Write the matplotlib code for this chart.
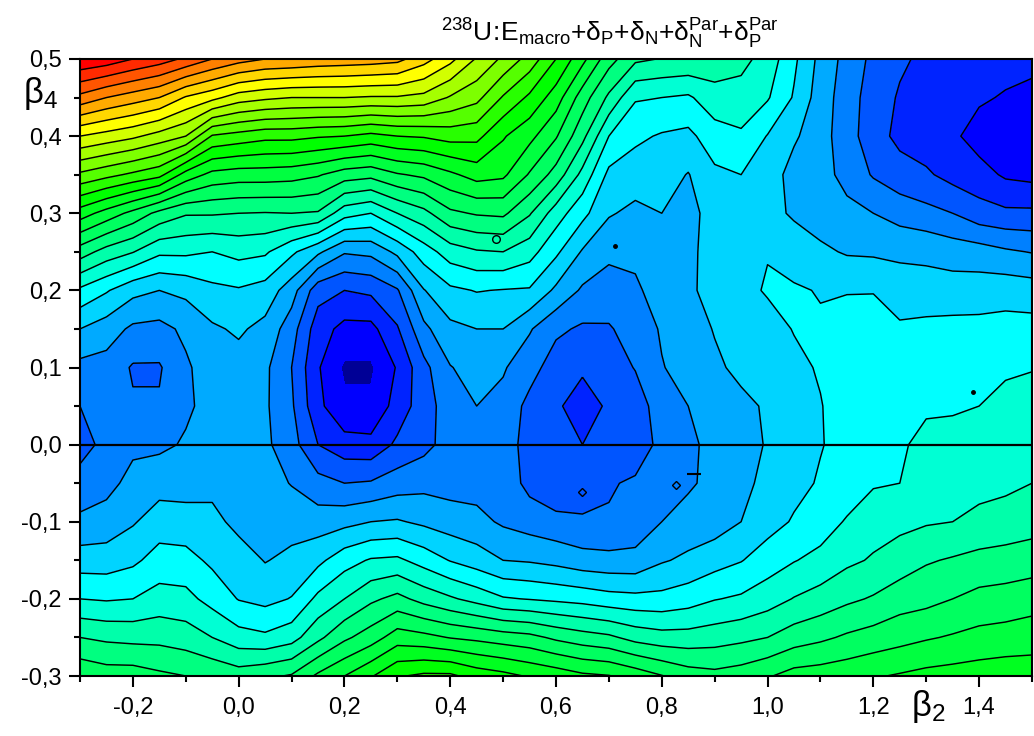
import matplotlib
matplotlib.use('Agg')
import matplotlib.pyplot as plt
import numpy as np

plt.rcParams['font.family'] = ['Liberation Sans', 'DejaVu Sans']
plt.rcParams['mathtext.fontset'] = 'custom'
plt.rcParams['mathtext.rm'] = 'Liberation Sans'
plt.rcParams['mathtext.it'] = 'Liberation Sans:italic'
plt.rcParams['mathtext.bf'] = 'Liberation Sans:bold'

beta2 = [-0.30, -0.25, -0.20, -0.15, -0.10, -0.05, 0.00, 0.05, 0.10, 0.15, 0.20, 0.25, 0.30,
         0.35, 0.40, 0.45, 0.50, 0.55, 0.60, 0.65, 0.70, 0.75, 0.80, 0.85, 0.90, 0.95, 1.00,
         1.05, 1.10, 1.15, 1.20, 1.25, 1.30, 1.35, 1.40, 1.45, 1.50]
beta4 = [0.50, 0.45, 0.40, 0.35, 0.30, 0.25, 0.20, 0.15, 0.10, 0.05, 0.00,
         -0.05, -0.10, -0.15, -0.20, -0.25, -0.30]

# energy, one list per beta2 column, top to bottom, in contour steps
energy_cols = [
    [26.9, 23.7, 20.0, 16.8, 13.5, 10.5, 7.8, 6.0, 4.7, 4.0, 3.6, 4.4, 5.2, 6.5, 8.0, 10.0, 11.8],
    [26.6, 23.0, 19.6, 16.3, 12.6, 9.6, 7.1, 5.5, 4.6, 4.3, 4.3, 4.7, 5.4, 6.5, 7.9, 9.8, 11.5],
    [26.0, 22.5, 19.2, 15.8, 11.7, 9.05, 6.3, 4.8, 3.9, 4.1, 4.8, 5.3, 5.9, 6.8, 8.0, 9.7, 11.5],
    [25.5, 22.0, 18.6, 15.3, 10.7, 8.2, 6.0, 4.7, 3.9, 4.1, 4.8, 5.6, 6.5, 7.4, 8.4, 9.7, 11.2],
    [24.8, 20.9, 18.0, 13.6, 10.1, 8.2, 6.25, 5.2, 4.85, 4.85, 5.1, 5.6, 6.4, 7.35, 8.3, 9.5, 11.0],
    [24.0, 20.3, 15.9, 12.7, 10.1, 8.0, 6.75, 5.85, 5.5, 5.3, 5.2, 5.7, 6.3, 6.8, 7.65, 9.0, 10.8],
    [23.4, 19.5, 15.6, 12.5, 10.0, 8.3, 6.9, 6.15, 5.6, 5.4, 5.3, 5.4, 5.7, 6.5, 6.95, 8.4, 10.5],
    [23.0, 19.2, 15.3, 12.5, 9.95, 8.15, 6.6, 5.7, 5.2, 5.15, 5.2, 5.4, 5.6, 5.95, 6.7, 8.2, 10.8],
    [22.9, 19.0, 15.3, 12.4, 10.0, 7.2, 5.45, 4.45, 4.0, 4.15, 4.4, 4.95, 5.6, 6.25, 7.05, 8.6, 11.1],
    [22.7, 19.0, 15.1, 12.1, 9.9, 6.2, 3.4, 2.45, 2.1, 2.25, 3.0, 4.35, 5.5, 6.75, 8.25, 9.75, 12.2],
    [22.6, 19.0, 15.0, 11.5, 8.4, 5.1, 3.0, 1.7, 0.85, 1.2, 2.4, 4.0, 5.7, 7.6, 9.0, 10.8, 13.0],
    [22.5, 18.9, 14.7, 11.3, 8.0, 5.25, 3.2, 1.7, 0.85, 1.2, 2.3, 4.1, 6.0, 8.1, 9.8, 11.5, 13.9],
    [22.3, 18.9, 15.0, 11.9, 9.0, 6.25, 3.9, 2.9, 2.1, 2.4, 3.2, 4.5, 6.1, 8.2, 10.3, 12.5, 14.9],
    [21.4, 18.7, 15.1, 12.2, 9.7, 7.5, 5.95, 4.75, 3.7, 3.55, 3.7, 4.7, 5.8, 7.6, 9.65, 12.3, 15.2],
    [20.3, 17.9, 15.4, 12.8, 10.8, 8.5, 6.8, 5.75, 4.95, 4.5, 4.4, 4.6, 5.5, 6.95, 9.15, 11.95, 15.2],
    [18.9, 17.3, 15.3, 13.4, 11.1, 8.9, 7.05, 6.0, 5.4, 5.0, 4.9, 4.6, 5.3, 6.5, 8.65, 11.75, 14.6],
    [17.8, 15.9, 14.1, 13.2, 11.2, 9.0, 6.95, 6.0, 5.1, 4.7, 4.5, 4.6, 4.85, 6.0, 8.1, 11.5, 14.3],
    [16.6, 14.8, 13.3, 11.9, 10.1, 8.4, 6.9, 5.1, 4.4, 3.7, 3.6, 3.7, 4.55, 5.9, 7.95, 11.3, 13.9],
    [15.0, 13.5, 12.1, 10.6, 8.5, 7.2, 5.8, 4.2, 3.5, 3.1, 3.1, 3.2, 4.3, 5.7, 7.8, 10.8, 13.6],
    [13.3, 11.5, 10.3, 8.7, 7.3, 5.9, 4.85, 3.85, 3.1, 2.7, 3.0, 3.6, 4.1, 5.4, 7.65, 10.45, 13.2],
    [11.4, 9.8, 8.0, 6.75, 6.1, 5.2, 4.6, 3.9, 3.5, 3.1, 3.4, 3.9, 4.1, 5.3, 7.4, 10.2, 13.05],
    [10.2, 8.1, 7.2, 6.5, 5.75, 5.2, 4.85, 4.45, 4.05, 3.5, 3.4, 4.15, 4.4, 5.3, 7.3, 9.65, 12.6],
    [9.95, 8.0, 6.9, 6.45, 6.0, 5.7, 5.4, 5.1, 4.95, 4.5, 4.3, 4.1, 5.0, 5.9, 7.3, 9.4, 12.05],
    [9.85, 7.85, 6.75, 5.95, 5.6, 5.8, 5.9, 5.6, 5.35, 5.0, 4.75, 4.85, 5.4, 6.2, 7.55, 9.4, 11.5],
    [9.6, 8.6, 7.55, 6.8, 6.5, 6.35, 6.2, 6.05, 5.85, 5.6, 5.35, 5.3, 5.5, 6.6, 7.95, 9.55, 11.3],
    [9.3, 8.6, 7.85, 7.0, 6.85, 6.8, 6.7, 6.4, 6.2, 5.8, 5.75, 5.7, 6.0, 6.95, 8.15, 9.75, 11.5],
    [8.6, 8.1, 6.95, 6.55, 6.35, 6.95, 7.1, 6.6, 6.3, 6.1, 6.05, 6.3, 6.6, 7.5, 8.55, 10.0, 11.9],
    [7.2, 6.9, 6.15, 5.6, 5.85, 6.6, 7.1, 7.05, 6.75, 6.55, 6.4, 6.7, 7.1, 7.95, 9.05, 10.5, 12.4],
    [5.7, 5.5, 5.4, 5.35, 5.5, 6.2, 6.95, 7.1, 7.1, 6.95, 6.95, 7.1, 7.5, 8.3, 9.4, 10.8, 12.5],
    [4.65, 4.5, 4.45, 4.7, 5.25, 5.9, 6.95, 7.4, 7.6, 7.5, 7.3, 7.4, 8.1, 8.8, 9.8, 11.15, 12.65],
    [3.75, 3.5, 3.4, 3.9, 5.0, 5.85, 6.95, 7.5, 7.7, 7.7, 7.8, 7.9, 8.6, 9.1, 10.1, 11.4, 12.9],
    [3.15, 2.9, 2.75, 3.4, 4.6, 5.8, 6.5, 7.15, 7.6, 7.9, 7.95, 8.0, 8.75, 9.45, 10.55, 11.65, 13.1],
    [2.8, 2.55, 2.45, 3.15, 4.3, 5.8, 6.35, 7.3, 7.7, 7.95, 8.1, 8.2, 8.9, 9.9, 10.7, 11.9, 13.3],
    [2.6, 2.35, 2.2, 2.65, 4.0, 5.55, 6.45, 7.3, 7.7, 7.9, 8.3, 8.5, 9.0, 10.1, 11.0, 12.1, 13.4],
    [2.5, 2.15, 1.55, 2.4, 3.4, 5.45, 6.5, 7.3, 7.6, 8.0, 8.4, 8.7, 9.25, 10.3, 11.3, 12.3, 13.5],
    [2.4, 1.9, 1.35, 1.85, 3.2, 5.15, 6.6, 7.35, 7.9, 8.2, 8.5, 8.8, 9.4, 10.4, 11.4, 12.4, 13.6],
    [2.3, 1.7, 1.2, 1.7, 3.2, 4.95, 6.5, 7.35, 7.95, 8.4, 8.7, 9.0, 9.6, 10.5, 11.6, 12.5, 13.6],
]

# tiny closed contours too small for the grid above
ring_b2 = [0.487]
ring_b4 = [0.267]
diamond_b2 = [0.649, 0.827]
diamond_b4 = [-0.061, -0.052]
dot_b2 = [0.711, 1.389]
dot_b4 = [0.258, 0.068]
dash_b2 = [0.861]
dash_b4 = [-0.038]

band_levels = [0] + list(range(1, 28))
line_levels = list(range(2, 27))
band_rgb = [(0, 0, 150), (0, 0, 255), (0, 35, 255), (0, 85, 255), (0, 128, 255), (0, 170, 255),
            (0, 212, 255), (0, 255, 255), (0, 255, 212), (0, 255, 170), (0, 255, 128),
            (0, 255, 96), (0, 255, 64), (0, 255, 32), (0, 255, 0), (40, 255, 0), (85, 255, 0),
            (125, 255, 0), (165, 255, 0), (210, 255, 0), (255, 255, 0), (255, 215, 0),
            (255, 170, 0), (255, 128, 0), (255, 85, 0), (255, 42, 0), (255, 0, 0)]

x_major = [-0.2, 0.0, 0.2, 0.4, 0.6, 0.8, 1.0, 1.2, 1.4]
x_minor = [-0.3, -0.1, 0.1, 0.3, 0.5, 0.7, 0.9, 1.1, 1.3, 1.5]
y_major = [-0.3, -0.2, -0.1, 0.0, 0.1, 0.2, 0.3, 0.4, 0.5]
y_minor = [-0.25, -0.15, -0.05, 0.05, 0.15, 0.25, 0.35, 0.45]

W, H = 1034, 736
fig = plt.figure(figsize=(W / 100, H / 100), dpi=100)
ax = fig.add_axes([80 / W, 1 - 676 / H, 952 / W, 617 / H])

z = np.array(energy_cols).T
colors = [tuple(c / 255 for c in rgb) for rgb in band_rgb]
ax.contourf(beta2, beta4, z, levels=band_levels, colors=colors)
ax.contour(beta2, beta4, z, levels=line_levels, colors='k', linewidths=1.05)
ax.axhline(0, color='k', lw=1.6)

ax.plot(ring_b2, ring_b4, 'o', mfc='none', mec='k', ms=5.5, mew=1)
ax.plot(diamond_b2, diamond_b4, 'D', mfc='none', mec='k', ms=4, mew=1)
ax.plot(dot_b2, dot_b4, 'o', color='k', ms=2.5)
ax.plot(dash_b2, dash_b4, '_', color='k', ms=10, mew=1.5)

ax.set_xlim(-0.3, 1.5)
ax.set_ylim(-0.3, 0.5)
ax.set_xticks(x_major)
ax.set_xticklabels([f'{v:.1f}'.replace('.', ',') for v in x_major])
ax.set_xticks(x_minor, minor=True)
ax.set_yticks(y_major)
ax.set_yticklabels([f'{v:.1f}'.replace('.', ',') for v in y_major])
ax.set_yticks(y_minor, minor=True)
ax.tick_params(which='major', length=8.2, width=1.5, labelsize=17)
ax.tick_params(which='minor', length=4.5, width=1.5)
ax.tick_params(axis='x', which='major', pad=7)
ax.tick_params(axis='y', which='major', pad=5)
for s in ax.spines.values():
    s.set_linewidth(1.5)
    s.set_zorder(5)

fig.text(441 / W, 1 - 42 / H,
         r'$^{238}\mathrm{U}\!:\!\mathrm{E}_{\mathrm{macro}}{+}\mathrm{δ}_{\mathrm{P}}{+}\mathrm{δ}_{\mathrm{N}}'
         r'{+}\mathrm{δ}_{\mathrm{N}}^{\mathrm{Par}}{+}\mathrm{δ}_{\mathrm{P}}^{\mathrm{Par}}$',
         fontsize=19, ha='left', va='baseline')
fig.text(23 / W, 1 - 103 / H, r'$\mathrm{β}_{\mathrm{4}}$', fontsize=25, ha='left', va='baseline')
fig.text(911 / W, 1 - 716 / H, r'$\mathrm{β}_{\mathrm{2}}$', fontsize=25, ha='left', va='baseline')

fig.savefig('out.png', dpi=100)
